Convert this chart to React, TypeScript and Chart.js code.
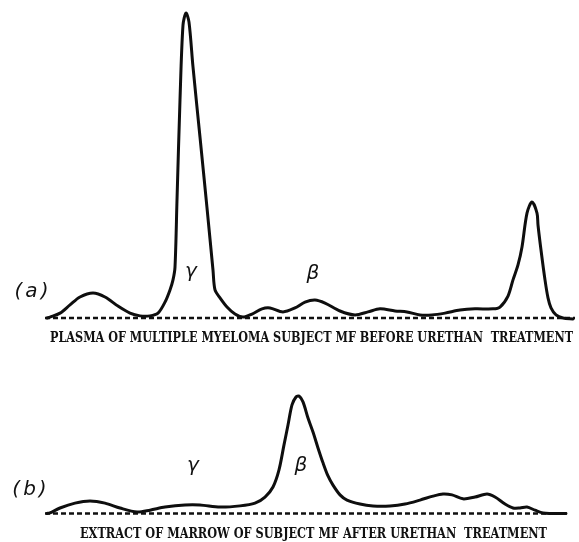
import React, { useEffect, useRef } from "react";
import { Chart, registerables } from "chart.js";

Chart.register(...registerables);

// ---------- Data (distance along strip in arbitrary units, optical density in arbitrary units) ----------
const positionsA = [
  0.4, 1, 3, 5, 7, 9.6, 12, 14.6, 17, 19, 21, 22.6, 24, 25, 25.6, 26, 26.4, 27, 27.6, 28.2, 28.8, 29.6,
  31, 32.4, 33.6, 34, 35, 36.4, 38, 39.6, 41.4, 43.4, 45, 47.6, 50, 52, 54, 56, 59, 62, 64.6,
  67, 70, 72.4, 75, 77.4, 80, 83, 86, 89.6, 91, 92.6, 93.6, 94.6, 95.4, 96.4, 97.4, 98.4, 98.6, 99.2,
  100, 100.6, 101.2, 102.2, 103.6, 105.6,
];
const densityA = [
  0, 0.3, 1.6, 4.3, 6.9, 8.2, 6.9, 3.9, 1.6, 0.7, 0.7, 1.6, 5.2, 9.2, 12.5, 16.7, 38.7, 71.5, 96, 100, 97,
  82.3, 59.3, 36.1, 15.7, 9.2, 6.6, 3.6, 1.3, 0.3, 1.3, 3, 3.3, 2, 3.3, 5.2, 5.9, 4.9, 2.3, 1, 2, 3,
  2.3, 2, 1, 1, 1.6, 2.6, 3, 3, 3.6, 7.2, 12.5, 17.4, 23.3, 34.4, 38, 34.4, 30.5, 22.3, 12.5, 6.6, 3.3,
  1, 0, -0.3,
];

const positionsB = [
  0.4, 1, 3, 6, 9, 12, 15, 18.4, 21, 24, 28, 31, 35, 39, 42, 44, 45.6, 46.8, 47.8, 48.6, 49.4, 50.2, 50.8,
  51.6, 52.6, 53.6, 54.6, 55.6, 56.6, 57.6, 59, 60.4, 63, 65.6, 69, 72, 75, 77.6, 79.6, 81.4, 83.6, 86,
  88.4, 90, 92, 93.6, 95, 96.4, 98, 99.6, 104.2,
];
const densityB = [
  0, 0.2, 1.8, 3.4, 4.1, 3.4, 1.8, 0.5, 1.1, 2.1, 2.8, 2.8, 2.1, 2.5, 3.4, 5.4, 8.7, 14.3, 22.5, 29, 35.6,
  38.2, 38.5, 36.6, 31.3, 26.7, 21.5, 16.6, 12.3, 9.3, 6.1, 4.4, 3.1, 2.5, 2.5, 3.1, 4.4, 5.7, 6.4, 6.1,
  4.8, 5.4, 6.4, 5.4, 3.1, 1.8, 1.8, 2.1, 1.1, 0.2, 0,
];

const baselineA = [0, 106];
const baselineB = [0, 104.4];

const captionA = "PLASMA OF MULTIPLE MYELOMA SUBJECT MF BEFORE URETHAN  TREATMENT";
const captionB = "EXTRACT OF MARROW OF SUBJECT MF AFTER URETHAN  TREATMENT";
const panelLabels = ["(a)", "(b)"];
const fractionLabels = ["\u03B3", "\u03B2"];

// ---------- helpers ----------
type TextItem = {
  text: string;
  x: number;
  y: number;
  font: string;
  align: CanvasTextAlign;
  xEnd?: number;
  spacing?: string;
};

const textPlugin = {
  id: "stripText",
  afterDatasetsDraw(chart: any) {
    const items: TextItem[] = chart.options.plugins.stripText?.items || [];
    const { ctx, scales } = chart;
    const xs = scales.x;
    const ys = scales.y;
    ctx.save();
    ctx.fillStyle = "#111";
    ctx.textBaseline = "middle";
    for (const it of items) {
      ctx.font = it.font;
      ctx.textAlign = it.align;
      (ctx as any).letterSpacing = it.spacing || "0px";
      const px = xs.getPixelForValue(it.x);
      const py = ys.getPixelForValue(it.y);
      if (it.xEnd !== undefined) {
        const maxW = xs.getPixelForValue(it.xEnd) - px;
        ctx.fillText(it.text, px, py, maxW);
      } else {
        ctx.fillText(it.text, px, py);
      }
    }
    ctx.restore();
  },
};

function makeConfig(
  xs: number[],
  ys: number[],
  base: number[],
  yMin: number,
  yMax: number,
  items: TextItem[]
): any {
  return {
    type: "line",
    data: {
      datasets: [
        {
          data: xs.map((x, i) => ({ x, y: ys[i] })),
          borderColor: "#0e0e0e",
          borderWidth: 3,
          pointRadius: 0,
          fill: false,
          tension: 0.3,
          borderCapStyle: "round",
          borderJoinStyle: "round",
          order: 0,
        },
        {
          data: [
            { x: base[0], y: 0 },
            { x: base[1], y: 0 },
          ],
          borderColor: "#111",
          borderWidth: 2.5,
          borderDash: [5, 3],
          pointRadius: 0,
          fill: false,
          order: 1,
        },
      ],
    },
    options: {
      animation: false,
      responsive: false,
      maintainAspectRatio: false,
      layout: { padding: 0 },
      scales: {
        x: { type: "linear", min: -9, max: 106.8, display: false },
        y: { type: "linear", min: yMin, max: yMax, display: false },
      },
      plugins: {
        legend: { display: false },
        tooltip: { enabled: false },
        stripText: { items },
      },
    },
    plugins: [textPlugin],
  };
}

const symFont = "italic 20px 'DejaVu Sans'";
const panelFont = "italic 20px 'DejaVu Sans'";
const capFont = "bold 14px 'DejaVu Serif'";

export default function App() {
  const refA = useRef<HTMLCanvasElement | null>(null);
  const refB = useRef<HTMLCanvasElement | null>(null);

  useEffect(() => {
    const itemsA: TextItem[] = [
      { text: panelLabels[0], x: -2.4, y: 8.5, font: panelFont, align: "center", spacing: "3px" },
      { text: fractionLabels[0], x: 29.2, y: 15.1, font: symFont, align: "center" },
      { text: fractionLabels[1], x: 53.6, y: 14.4, font: symFont, align: "center" },
      { text: captionA, x: 1, y: -6.6, font: capFont, align: "left", xEnd: 105.6 },
    ];
    const itemsB: TextItem[] = [
      { text: panelLabels[1], x: -2.8, y: 7.7, font: panelFont, align: "center", spacing: "3px" },
      { text: fractionLabels[0], x: 29.6, y: 15.6, font: symFont, align: "center" },
      { text: fractionLabels[1], x: 51.2, y: 15.6, font: symFont, align: "center" },
      { text: captionB, x: 7, y: -6.7, font: capFont, align: "left", xEnd: 100.4 },
    ];
    const a = new Chart(
      refA.current as HTMLCanvasElement,
      makeConfig(positionsA, densityA, baselineA, -10.49, 104.26, itemsA)
    );
    const b = new Chart(
      refB.current as HTMLCanvasElement,
      makeConfig(positionsB, densityB, baselineB, -9.34, 53.6, itemsB)
    );
    return () => {
      a.destroy();
      b.destroy();
    };
  }, []);

  return (
    <div
      style={{
        position: "absolute",
        left: 0,
        top: 0,
        width: 579,
        height: 542,
        background: "#fff",
        overflow: "hidden",
      }}
    >
      <canvas
        ref={refA}
        width={579}
        height={350}
        style={{ position: "absolute", left: 0, top: 0, width: 579, height: 350 }}
      />
      <canvas
        ref={refB}
        width={579}
        height={192}
        style={{ position: "absolute", left: 0, top: 350, width: 579, height: 192 }}
      />
    </div>
  );
}
